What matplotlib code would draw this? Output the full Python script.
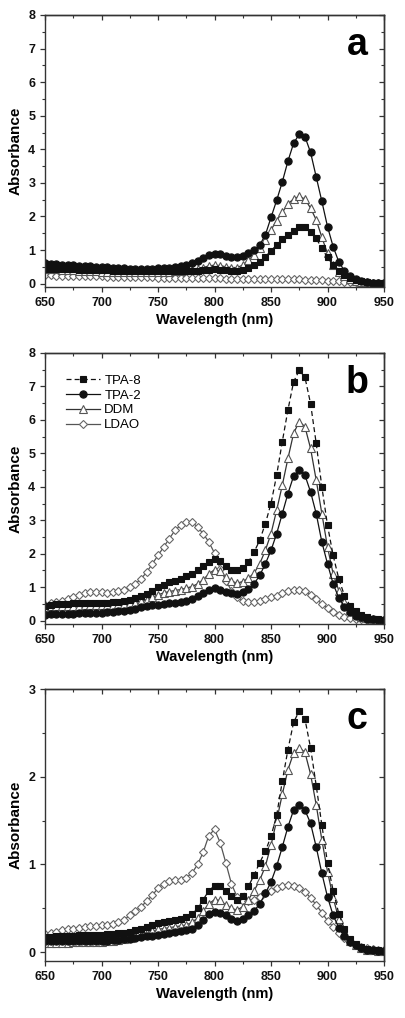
import matplotlib
matplotlib.use("Agg")
import matplotlib.pyplot as plt
from matplotlib.ticker import MultipleLocator

plt.rcParams['font.family'] = ['Liberation Sans', 'DejaVu Sans']

wavelength = list(range(650, 955, 5))  # 61 points, 650..950 nm
series_names = ["TPA-8", "TPA-2", "DDM", "LDAO"]
panel_labels = ["a", "b", "c"]

# ---------------- panel a ----------------
a_tpa8 = [0.45, 0.45, 0.44, 0.44, 0.43, 0.43, 0.42, 0.42, 0.41, 0.41,
          0.40, 0.40, 0.39, 0.39, 0.38, 0.38, 0.38, 0.38, 0.38, 0.38,
          0.38, 0.38, 0.38, 0.38, 0.38, 0.38, 0.38, 0.39, 0.40, 0.42,
          0.43, 0.42, 0.40, 0.38, 0.37, 0.40, 0.47, 0.55, 0.65, 0.80,
          0.98, 1.15, 1.32, 1.45, 1.58, 1.68, 1.69, 1.55, 1.35, 1.05,
          0.78, 0.55, 0.38, 0.26, 0.17, 0.11, 0.07, 0.05, 0.03, 0.02, 0.01]
a_tpa2 = [0.60, 0.59, 0.58, 0.57, 0.56, 0.55, 0.54, 0.53, 0.52, 0.51,
          0.50, 0.49, 0.48, 0.47, 0.46, 0.45, 0.44, 0.44, 0.44, 0.45,
          0.46, 0.47, 0.48, 0.50, 0.52, 0.55, 0.60, 0.67, 0.76, 0.84,
          0.88, 0.87, 0.83, 0.79, 0.78, 0.82, 0.90, 1.00, 1.15, 1.45,
          1.97, 2.48, 3.03, 3.65, 4.18, 4.45, 4.38, 3.91, 3.18, 2.45,
          1.70, 1.10, 0.65, 0.38, 0.22, 0.13, 0.08, 0.05, 0.03, 0.02, 0.01]
a_ddm = [0.45, 0.44, 0.43, 0.42, 0.41, 0.40, 0.39, 0.38, 0.37, 0.37,
         0.36, 0.36, 0.35, 0.35, 0.35, 0.35, 0.35, 0.35, 0.35, 0.35,
         0.35, 0.35, 0.36, 0.37, 0.38, 0.40, 0.42, 0.45, 0.48, 0.53,
         0.55, 0.54, 0.50, 0.48, 0.48, 0.55, 0.70, 0.85, 1.05, 1.30,
         1.60, 1.88, 2.12, 2.38, 2.52, 2.60, 2.52, 2.25, 1.90, 1.38,
         0.90, 0.55, 0.35, 0.22, 0.14, 0.09, 0.06, 0.04, 0.03, 0.02, 0.01]
a_ldao = [0.25, 0.25, 0.24, 0.24, 0.24, 0.23, 0.23, 0.23, 0.22, 0.22,
          0.22, 0.21, 0.21, 0.21, 0.20, 0.20, 0.20, 0.19, 0.19, 0.19,
          0.18, 0.18, 0.18, 0.17, 0.17, 0.17, 0.16, 0.16, 0.16, 0.16,
          0.16, 0.16, 0.15, 0.15, 0.14, 0.14, 0.13, 0.13, 0.13, 0.13,
          0.13, 0.13, 0.13, 0.13, 0.13, 0.13, 0.12, 0.12, 0.11, 0.10,
          0.09, 0.08, 0.07, 0.06, 0.05, 0.04, 0.04, 0.03, 0.03, 0.02, 0.02]

# ---------------- panel b ----------------
b_tpa8 = [0.45, 0.47, 0.49, 0.50, 0.51, 0.52, 0.52, 0.53, 0.53, 0.53,
          0.54, 0.54, 0.55, 0.57, 0.60, 0.63, 0.68, 0.73, 0.80, 0.90,
          1.00, 1.08, 1.15, 1.20, 1.25, 1.32, 1.40, 1.50, 1.62, 1.75,
          1.84, 1.77, 1.62, 1.52, 1.50, 1.56, 1.75, 2.05, 2.40, 2.90,
          3.50, 4.35, 5.35, 6.30, 7.14, 7.48, 7.28, 6.49, 5.30, 4.00,
          2.85, 1.95, 1.25, 0.75, 0.45, 0.28, 0.17, 0.10, 0.06, 0.04, 0.02]
b_tpa2 = [0.18, 0.19, 0.20, 0.20, 0.21, 0.21, 0.22, 0.22, 0.23, 0.23,
          0.24, 0.25, 0.26, 0.28, 0.30, 0.33, 0.36, 0.40, 0.43, 0.46,
          0.48, 0.50, 0.52, 0.54, 0.57, 0.60, 0.66, 0.74, 0.83, 0.92,
          0.97, 0.93, 0.86, 0.84, 0.80, 0.85, 0.95, 1.10, 1.35, 1.70,
          2.10, 2.60, 3.20, 3.80, 4.32, 4.50, 4.35, 3.85, 3.20, 2.35,
          1.70, 1.10, 0.68, 0.42, 0.25, 0.15, 0.10, 0.06, 0.04, 0.02, 0.01]
b_ddm = [0.42, 0.43, 0.44, 0.44, 0.45, 0.45, 0.45, 0.46, 0.46, 0.46,
         0.46, 0.47, 0.48, 0.49, 0.50, 0.52, 0.54, 0.58, 0.63, 0.70,
         0.77, 0.83, 0.87, 0.90, 0.93, 0.97, 1.02, 1.10, 1.22, 1.40,
         1.52, 1.47, 1.30, 1.18, 1.12, 1.17, 1.27, 1.42, 1.70, 2.10,
         2.60, 3.30, 4.05, 4.85, 5.60, 5.95, 5.80, 5.15, 4.20, 3.20,
         2.20, 1.40, 0.90, 0.55, 0.32, 0.20, 0.12, 0.07, 0.05, 0.03, 0.02]
b_ldao = [0.48, 0.52, 0.55, 0.60, 0.65, 0.70, 0.78, 0.82, 0.85, 0.85,
          0.85, 0.83, 0.85, 0.88, 0.92, 1.00, 1.10, 1.25, 1.45, 1.70,
          1.95, 2.20, 2.45, 2.70, 2.85, 2.95, 2.95, 2.80, 2.60, 2.35,
          2.02, 1.55, 1.20, 0.90, 0.70, 0.58, 0.55, 0.55, 0.58, 0.65,
          0.70, 0.75, 0.82, 0.88, 0.92, 0.93, 0.88, 0.78, 0.65, 0.50,
          0.38, 0.27, 0.18, 0.12, 0.08, 0.05, 0.04, 0.03, 0.02, 0.01, 0.01]

# ---------------- panel c ----------------
c_tpa8 = [0.17, 0.17, 0.18, 0.18, 0.19, 0.19, 0.20, 0.20, 0.20, 0.20,
          0.20, 0.21, 0.21, 0.22, 0.22, 0.23, 0.25, 0.27, 0.29, 0.31,
          0.33, 0.35, 0.36, 0.37, 0.38, 0.40, 0.43, 0.50, 0.60, 0.70,
          0.76, 0.75, 0.70, 0.64, 0.60, 0.64, 0.75, 0.88, 1.02, 1.15,
          1.32, 1.56, 1.95, 2.31, 2.62, 2.75, 2.66, 2.33, 1.90, 1.45,
          1.02, 0.70, 0.44, 0.26, 0.15, 0.09, 0.06, 0.04, 0.03, 0.02, 0.01]
c_tpa2 = [0.13, 0.13, 0.13, 0.13, 0.13, 0.13, 0.13, 0.13, 0.13, 0.13,
          0.13, 0.13, 0.14, 0.14, 0.15, 0.15, 0.16, 0.17, 0.18, 0.19,
          0.20, 0.21, 0.22, 0.23, 0.24, 0.25, 0.27, 0.31, 0.37, 0.43,
          0.46, 0.45, 0.42, 0.38, 0.36, 0.38, 0.42, 0.47, 0.55, 0.67,
          0.80, 0.98, 1.20, 1.43, 1.62, 1.68, 1.62, 1.47, 1.20, 0.90,
          0.63, 0.42, 0.28, 0.18, 0.12, 0.08, 0.05, 0.03, 0.02, 0.015, 0.01]
c_ddm = [0.11, 0.11, 0.11, 0.11, 0.11, 0.12, 0.12, 0.12, 0.12, 0.12,
         0.12, 0.13, 0.13, 0.14, 0.15, 0.16, 0.18, 0.20, 0.22, 0.24,
         0.26, 0.27, 0.28, 0.29, 0.30, 0.31, 0.34, 0.39, 0.47, 0.55,
         0.60, 0.59, 0.54, 0.50, 0.48, 0.52, 0.60, 0.70, 0.82, 0.98,
         1.22, 1.50, 1.80, 2.08, 2.27, 2.33, 2.28, 2.03, 1.68, 1.28,
         0.92, 0.62, 0.38, 0.22, 0.13, 0.08, 0.05, 0.03, 0.02, 0.01, 0.01]
c_ldao = [0.21, 0.22, 0.23, 0.25, 0.26, 0.27, 0.28, 0.29, 0.30, 0.30,
          0.31, 0.31, 0.32, 0.34, 0.37, 0.42, 0.47, 0.52, 0.58, 0.65,
          0.73, 0.78, 0.81, 0.82, 0.82, 0.85, 0.90, 1.00, 1.14, 1.33,
          1.40, 1.25, 1.02, 0.78, 0.63, 0.58, 0.58, 0.60, 0.63, 0.67,
          0.70, 0.73, 0.75, 0.77, 0.76, 0.73, 0.69, 0.62, 0.54, 0.45,
          0.36, 0.29, 0.22, 0.16, 0.12, 0.08, 0.06, 0.05, 0.04, 0.03, 0.02]

panels = [
    [a_tpa8, a_tpa2, a_ddm, a_ldao],
    [b_tpa8, b_tpa2, b_ddm, b_ldao],
    [c_tpa8, c_tpa2, c_ddm, c_ldao],
]
y_tops = [8, 8, 3]

styles = [
    dict(marker='s', ls=(0, (4, 2.5)), color='#111111', mfc='#111111', mec='#111111'),
    dict(marker='o', ls='-', color='#111111', mfc='#111111', mec='#111111'),
    dict(marker='^', ls='-', color='#333333', mfc='white', mec='#555555'),
    dict(marker='D', ls='-', color='#555555', mfc='white', mec='#666666'),
]
msizes = [4.8, 5.2, 5.4, 4.2]

fig = plt.figure(figsize=(4.05, 10.18), dpi=100)
W, H = 405, 1018
boxes = [(45, 15, 384, 287), (45, 353, 384, 624), (45, 689, 384, 961)]
spine_c = '#333333'

for i, (series, ytop, lab) in enumerate(zip(panels, y_tops, panel_labels)):
    l, t, r, b = boxes[i]
    ax = fig.add_axes([l / W, 1 - b / H, (r - l) / W, (b - t) / H])
    for j in [3, 2, 1, 0]:
        ax.plot(wavelength, series[j], label=series_names[j], lw=0.9,
                ms=msizes[j], mew=0.8, **styles[j])
    ax.set_xlim(650, 950)
    ax.set_ylim(-0.1, ytop)
    ax.xaxis.set_major_locator(MultipleLocator(50))
    ax.xaxis.set_minor_locator(MultipleLocator(25))
    ax.yaxis.set_major_locator(MultipleLocator(1))
    ax.yaxis.set_minor_locator(MultipleLocator(0.5))
    ax.tick_params(which='both', direction='out', top=False, right=False,
                   colors=spine_c, labelcolor='#111111')
    ax.tick_params(which='major', length=3.5, width=0.9, labelsize=9)
    ax.tick_params(which='minor', length=2, width=0.8)
    for lbl in ax.get_xticklabels() + ax.get_yticklabels():
        lbl.set_fontweight('bold')
    # mirrored inward ticks on top/right
    sec_x = ax.secondary_xaxis('top')
    sec_x.xaxis.set_major_locator(MultipleLocator(50))
    sec_x.xaxis.set_minor_locator(MultipleLocator(25))
    sec_x.tick_params(which='both', direction='in', labeltop=False, colors=spine_c)
    sec_x.tick_params(which='major', length=3.5, width=0.9)
    sec_x.tick_params(which='minor', length=2, width=0.8)
    sec_y = ax.secondary_yaxis('right')
    sec_y.yaxis.set_major_locator(MultipleLocator(1))
    sec_y.yaxis.set_minor_locator(MultipleLocator(0.5))
    sec_y.tick_params(which='both', direction='in', labelright=False, colors=spine_c)
    sec_y.tick_params(which='major', length=3.5, width=0.9)
    sec_y.tick_params(which='minor', length=2, width=0.8)
    for sp in list(ax.spines.values()) + list(sec_x.spines.values()) + list(sec_y.spines.values()):
        sp.set_color(spine_c)
        sp.set_linewidth(1.0)
    ax.set_xlabel('Wavelength (nm)', fontsize=10.5, fontweight='bold', labelpad=3)
    ax.set_ylabel('Absorbance', fontsize=11, fontweight='bold', labelpad=4)
    ax.text(0.92, 0.89, lab, transform=ax.transAxes, fontsize=27,
            fontweight='bold', ha='center', va='center')
    if i == 1:
        handles, labels = ax.get_legend_handles_labels()
        ax.legend(handles[::-1], labels[::-1], loc='upper left',
                  bbox_to_anchor=(0.035, 0.955), frameon=False, numpoints=1,
                  fontsize=9.5, handlelength=2.6, handletextpad=0.3,
                  labelspacing=0.2, borderaxespad=0.3)

fig.savefig('out.png', dpi=100)
